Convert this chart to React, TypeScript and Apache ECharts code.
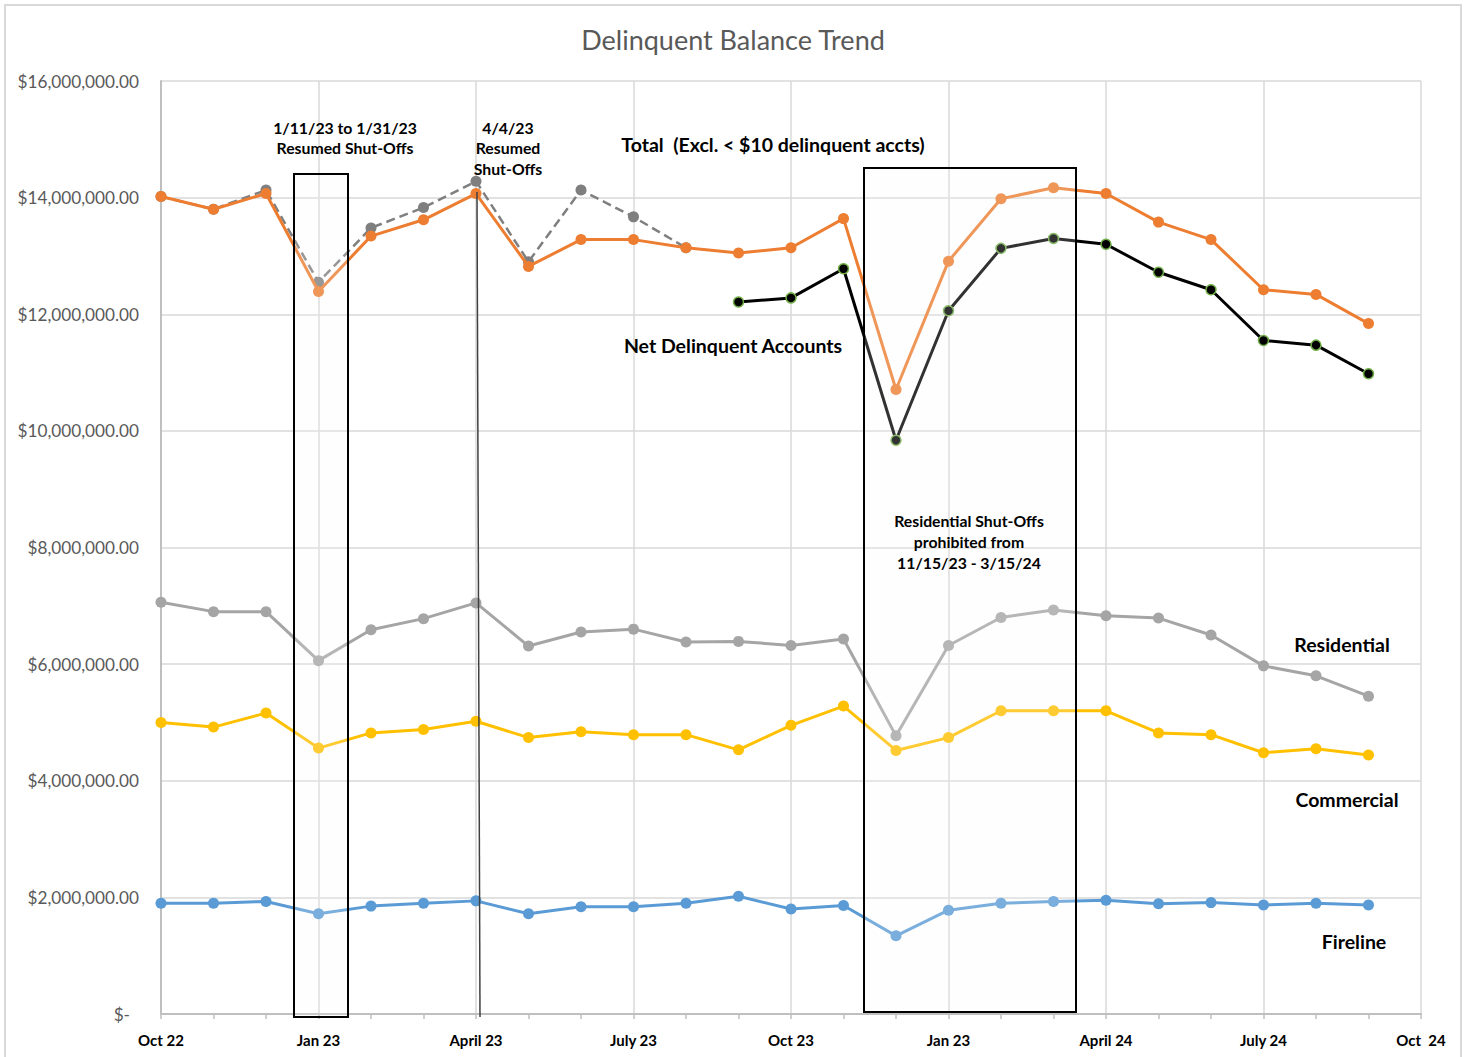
import React, { useEffect, useRef } from "react";
import * as echarts from "echarts";

const months = [
  "Oct 22", "Nov 22", "Dec 22", "Jan 23", "Feb 23", "Mar 23", "Apr 23", "May 23",
  "Jun 23", "Jul 23", "Aug 23", "Sep 23", "Oct 23", "Nov 23", "Dec 23", "Jan 24",
  "Feb 24", "Mar 24", "Apr 24", "May 24", "Jun 24", "Jul 24", "Aug 24", "Sep 24", "Oct 24",
];
const tickLabels = ["Oct 22", "Jan 23", "April 23", "July 23", "Oct 23", "Jan 23", "April 24", "July 24", "Oct  24"];

const totalAll = [
  14020000, 13800000, 14130000, 12550000, 13480000, 13830000, 14280000, 12900000,
  14130000, 13670000, 13140000, null, null, null, null, null, null, null, null, null, null, null, null, null,
];
const totalExcl = [
  14020000, 13800000, 14070000, 12390000, 13340000, 13620000, 14070000, 12820000,
  13280000, 13280000, 13140000, 13050000, 13140000, 13640000, 10710000, 12910000,
  13980000, 14170000, 14070000, 13580000, 13280000, 12420000, 12340000, 11840000,
];
const netDelinquent = [
  null, null, null, null, null, null, null, null, null, null, null,
  12210000, 12280000, 12780000, 9840000, 12060000, 13130000, 13300000, 13200000,
  12720000, 12420000, 11550000, 11470000, 10980000,
];
const residential = [
  7060000, 6900000, 6900000, 6060000, 6590000, 6780000, 7050000, 6310000,
  6550000, 6600000, 6380000, 6390000, 6320000, 6430000, 4770000, 6320000,
  6800000, 6930000, 6830000, 6790000, 6500000, 5970000, 5800000, 5450000,
];
const commercial = [
  5000000, 4920000, 5160000, 4560000, 4820000, 4880000, 5020000, 4740000,
  4840000, 4790000, 4790000, 4530000, 4950000, 5280000, 4520000, 4740000,
  5200000, 5200000, 5200000, 4820000, 4790000, 4480000, 4550000, 4440000,
];
const fireline = [
  1900000, 1900000, 1930000, 1720000, 1850000, 1900000, 1940000, 1720000,
  1840000, 1840000, 1900000, 2020000, 1800000, 1860000, 1340000, 1780000,
  1900000, 1930000, 1950000, 1890000, 1910000, 1870000, 1900000, 1870000,
];

const FONT = "Lato";

function fmtMoney(v: number): string {
  if (v === 0) return "{z|$-}";
  return "$" + v.toLocaleString("en-US", { minimumFractionDigits: 2, maximumFractionDigits: 2 });
}

function lineSeries(name: string, data: (number | null)[], color: string, extra: any = {}) {
  return {
    name,
    type: "line",
    data,
    symbol: "circle",
    symbolSize: 11,
    connectNulls: false,
    lineStyle: { color, width: 3 },
    itemStyle: { color },
    ...extra,
  };
}

function label(text: string, x: number, y: number, size: number, lh: number) {
  return {
    type: "text",
    x,
    y,
    z: 101,
    silent: true,
    style: {
      text,
      fontFamily: FONT,
      fontWeight: "bold",
      fontSize: size,
      lineHeight: lh,
      fill: "#000000",
      align: "center",
      verticalAlign: "middle",
    },
  };
}

export default function App() {
  const ref = useRef<HTMLDivElement>(null);
  useEffect(() => {
    if (!ref.current) return;
    const chart = echarts.init(ref.current, undefined, { renderer: "svg" });
    chart.setOption({
      animation: false,
      backgroundColor: "#ffffff",
      title: {
        text: "Delinquent Balance Trend",
        left: "center",
        top: 21,
        textStyle: { fontFamily: FONT, fontSize: 27, fontWeight: "normal", color: "#595959" },
      },
      grid: { left: 161, top: 81, width: 1260, height: 933, containLabel: false },
      xAxis: {
        type: "category",
        data: months,
        boundaryGap: false,
        axisLine: { show: true, lineStyle: { color: "#bfbfbf", width: 2 } },
        axisTick: { show: true, interval: 0, length: 5, inside: false, lineStyle: { color: "#bfbfbf", width: 1.5 } },
        splitLine: {
          show: true,
          interval: (idx: number) => idx % 3 === 0,
          lineStyle: { color: "#d9d9d9", width: 1.5 },
        },
        axisLabel: {
          interval: (idx: number) => idx % 3 === 0,
          formatter: (_v: string, idx: number) => (idx % 3 === 0 ? tickLabels[idx / 3] : ""),
          margin: 18,
          fontFamily: FONT,
          fontWeight: "bold",
          fontSize: 15,
          color: "#000000",
        },
      },
      yAxis: {
        type: "value",
        min: 0,
        max: 16000000,
        interval: 2000000,
        axisLine: { show: true, lineStyle: { color: "#bfbfbf", width: 2 } },
        axisTick: { show: false },
        splitLine: { show: true, lineStyle: { color: "#d9d9d9", width: 1.5 } },
        axisLabel: {
          formatter: fmtMoney,
          margin: 22,
          fontFamily: FONT,
          fontSize: 17.2,
          color: "#595959",
          rich: { z: { fontFamily: FONT, fontSize: 17.2, color: "#595959", padding: [0, 9, 0, 0] } },
        },
      },
      series: [
        lineSeries("Total", totalAll, "#7f7f7f", {
          lineStyle: { color: "#7f7f7f", width: 2.5, type: [9, 5] },
          z: 2,
        }),
        lineSeries("Total (Excl. < $10 delinquent accts)", totalExcl, "#ED7D31", { z: 3 }),
        lineSeries("Net Delinquent Accounts", netDelinquent, "#000000", {
          symbolSize: 10,
          itemStyle: { color: "#000000", borderColor: "#70AD47", borderWidth: 1.5 },
          z: 4,
        }),
        lineSeries("Residential", residential, "#A5A5A5", { z: 3 }),
        lineSeries("Commercial", commercial, "#FFC000", { z: 3 }),
        lineSeries("Fireline", fireline, "#5B9BD5", { z: 3 }),
      ],
      graphic: [
        {
          type: "rect",
          silent: true,
          z: -10,
          shape: { x: 5, y: 5, width: 1456, height: 1100 },
          style: { fill: "none", stroke: "#d9d9d9", lineWidth: 2 },
        },
        {
          type: "rect",
          silent: true,
          z: 100,
          shape: { x: 294, y: 174, width: 54, height: 843 },
          style: { fill: "rgba(248,248,248,0.2)", stroke: "#000000", lineWidth: 2 },
        },
        {
          type: "line",
          silent: true,
          z: 100,
          shape: { x1: 477, y1: 192, x2: 480, y2: 1017 },
          style: { stroke: "#404040", lineWidth: 1.5 },
        },
        {
          type: "rect",
          silent: true,
          z: 100,
          shape: { x: 864, y: 168, width: 212, height: 844 },
          style: { fill: "rgba(248,248,248,0.2)", stroke: "#000000", lineWidth: 2 },
        },
        label("1/11/23 to 1/31/23\nResumed Shut-Offs", 345, 137, 15.8, 20),
        label("4/4/23\nResumed\nShut-Offs", 508, 147.5, 15.8, 20.5),
        label("Total  (Excl. < $10 delinquent accts)", 773, 144, 19.5, 22),
        label("Net Delinquent Accounts", 733, 345, 19.5, 22),
        label("Residential Shut-Offs\nprohibited from\n11/15/23 - 3/15/24", 969, 541, 15.8, 21),
        label("Residential", 1342, 644, 19.5, 22),
        label("Commercial", 1347, 799, 19.5, 22),
        label("Fireline", 1354, 941, 19.5, 22),
      ],
    });
    return () => chart.dispose();
  }, []);
  return (
    <div
      ref={ref}
      style={{ position: "absolute", left: 0, top: 0, width: 1466, height: 1057 }}
    />
  );
}
